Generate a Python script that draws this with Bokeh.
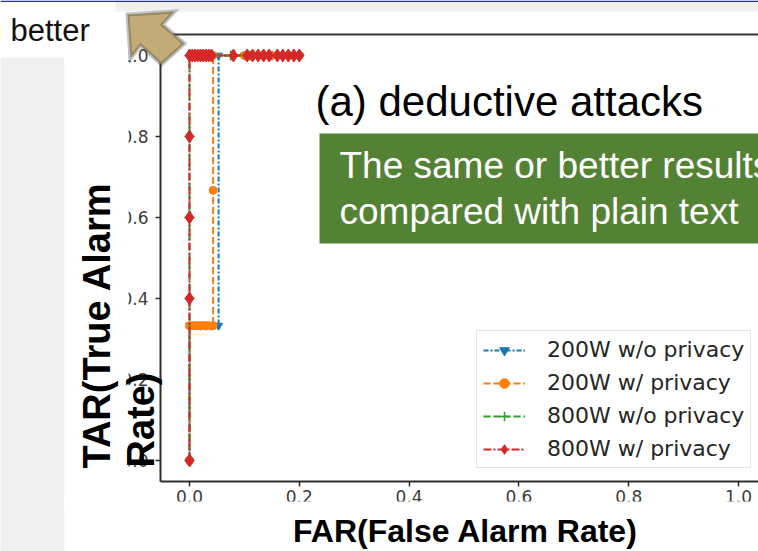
import math
from bokeh.plotting import figure
from bokeh.models import (BoxAnnotation, PolyAnnotation, Label, Legend, LegendItem,
                          FixedTicker, Range1d, PrintfTickFormatter)
from bokeh.embed import file_html
from bokeh.resources import INLINE

# ---------------- data ----------------
tick_values = [0.0, 0.2, 0.4, 0.6, 0.8, 1.0]
tick_labels = ["0.0", "0.2", "0.4", "0.6", "0.8", "1.0"]

series_names = ["200W w/o privacy", "200W w/ privacy", "800W w/o privacy", "800W w/ privacy"]

far_200_wo = [0.0, 0.0, 0.01, 0.02, 0.03, 0.04, 0.053, 0.053, 0.1, 0.15, 0.2]
tar_200_wo = [0.0, 0.333, 0.333, 0.333, 0.333, 0.333, 0.333, 1.0, 1.0, 1.0, 1.0]

far_200_w = [0.0, 0.0, 0.005, 0.01, 0.015, 0.02, 0.025, 0.03, 0.035, 0.043, 0.043, 0.043, 0.1, 0.15, 0.2]
tar_200_w = [0.0, 0.333, 0.333, 0.333, 0.333, 0.333, 0.333, 0.333, 0.333, 0.333, 0.667, 1.0, 1.0, 1.0, 1.0]

far_800_wo = [0.0, 0.0, 0.0, 0.0, 0.0, 0.01, 0.02, 0.03, 0.04, 0.075, 0.11, 0.133, 0.16, 0.2]
tar_800_wo = [0.0, 0.4, 0.6, 0.8, 1.0, 1.0, 1.0, 1.0, 1.0, 1.0, 1.0, 1.0, 1.0, 1.0]

far_800_w = [0.0, 0.0, 0.0, 0.0, 0.0, 0.005, 0.01, 0.015, 0.02, 0.025, 0.03, 0.035, 0.04,
             0.08, 0.105, 0.115, 0.125, 0.135, 0.145, 0.16, 0.17, 0.18, 0.19, 0.2]
tar_800_w = [0.0, 0.4, 0.6, 0.8, 1.0, 1.0, 1.0, 1.0, 1.0, 1.0, 1.0, 1.0, 1.0,
             1.0, 1.0, 1.0, 1.0, 1.0, 1.0, 1.0, 1.0, 1.0, 1.0, 1.0]

title_text = "(a) deductive attacks"
note_lines = ["The same or better results", "compared with plain text"]
x_label = "FAR(False Alarm Rate)"
y_label_lines = ["TAR(True Alarm", "Rate)"]
arrow_text = "better"

# axis limits of the embedded matplotlib plot
x_lo, x_hi = -0.0528, 1.0364
y_lo, y_hi = -0.0519, 1.0519

# ---------------- figure ----------------
W, H = 758, 551
p = figure(width=W, height=H, output_backend="svg", toolbar_location=None,
           x_range=Range1d(-0.34426, 1.03643), y_range=Range1d(-0.22469, 1.13580),
           min_border_left=0, min_border_right=0, min_border_top=0, min_border_bottom=0)
p.xgrid.visible = False
p.ygrid.visible = False
p.outline_line_color = None
p.background_fill_color = "white"
p.border_fill_color = "white"

p.xaxis.fixed_location = y_lo
p.yaxis.fixed_location = x_lo
p.xaxis.bounds = (x_lo, x_hi)
p.yaxis.bounds = (y_lo, y_hi)

for ax in (p.xaxis[0], p.yaxis[0]):
    ax.ticker = FixedTicker(ticks=tick_values)
    ax.formatter = PrintfTickFormatter(format="%.1f")
    ax.major_label_overrides = {v: s for v, s in zip(tick_values, tick_labels)}
    ax.axis_line_width = 2
    ax.axis_line_color = "#2e2e2e"
    ax.major_tick_out = 5
    ax.major_tick_in = 0
    ax.major_tick_line_color = "#2e2e2e"
    ax.major_tick_line_width = 1.5
    ax.minor_tick_out = 0
    ax.minor_tick_in = 0
    ax.major_label_text_font = "DejaVu Sans"
    ax.major_label_text_font_size = "17px"
    ax.major_label_text_color = "#3c3c3c"
p.yaxis.major_label_standoff = 7
p.xaxis.major_label_standoff = 3

colors = ["#1f77b4", "#ff7f0e", "#2ca02c", "#d62728"]
dashes = ["5 2 2 2", "7 3", "7 3", "8 2 2 2"]
markers = ["inverted_triangle", "circle", "cross", "diamond"]
msizes = [8, 8, 10, 13]
xs = [far_200_wo, far_200_w, far_800_wo, far_800_w]
ys = [tar_200_wo, tar_200_w, tar_800_wo, tar_800_w]

items = []
for name, c, d, m, s, x, y in zip(series_names, colors, dashes, markers, msizes, xs, ys):
    r1 = p.line(x, y, line_color=c, line_width=2, line_dash=d)
    r2 = p.scatter(x, y, marker=m, size=s, fill_color=c, line_color=c, line_width=1.5 if m == "cross" else 1)
    items.append(LegendItem(label=name, renderers=[r1, r2]))

# ---------------- slide decorations (screen units, frame = whole canvas) ----------------
def sx(px):
    return px

def sy(py):
    return H - py

TXT_SHIFT = 10  # correction for the alphabetic baseline position of labels

def box(x0, y0, x1, y1, color):
    p.add_layout(BoxAnnotation(left=sx(x0), right=sx(x1), top=sy(y0), bottom=sy(y1),
                               left_units="screen", right_units="screen",
                               top_units="screen", bottom_units="screen",
                               fill_color=color, fill_alpha=1.0, line_color=None))

def text(px, py, s, size, color="black", style="normal", align="left"):
    p.add_layout(Label(x=sx(px), y=sy(py) + TXT_SHIFT, x_units="screen", y_units="screen", text=s,
                       text_font="Liberation Sans", text_font_style=style, text_font_size=size,
                       text_color=color, text_baseline="alphabetic", text_align=align))

box(0, 0, 760, 1.5, "#2222ee")          # thin blue line at very top
box(115, 1.5, 760, 11, "#f0f0f0")       # top grey strip
box(0, 57, 64, 560, "#f0f0f0")          # left grey panel
box(64, 45, 128, 505, "white")          # crop of the plot image (left)
box(64, 501, 760, 560, "white")         # crop of the plot image (bottom)
box(158, 33, 760, 35, "#3a3a3a")        # top spine

# arrow
arrow_px = [127, 174, 162, 184, 161, 140, 130]
arrow_py = [14, 11, 24, 43, 64, 45, 58]
p.add_layout(PolyAnnotation(xs=[sx(v) for v in arrow_px], ys=[sy(v) for v in arrow_py],
                            xs_units="screen", ys_units="screen",
                            fill_color="#c2ab76", fill_alpha=1.0,
                            line_color="#333d3d", line_width=4, line_join="miter"))

text(10, 40, arrow_text, "31px", color="#111111")

# y label (two rotated lines)
p.add_layout(Label(x=sx(96), y=sy(468), x_units="screen", y_units="screen", text=y_label_lines[0],
                   angle=math.pi / 2, text_font="Liberation Sans", text_font_style="bold",
                   text_font_size="38px", text_color="black", text_baseline="middle", text_align="left"))
p.add_layout(Label(x=sx(140), y=sy(467), x_units="screen", y_units="screen", text=y_label_lines[1],
                   angle=math.pi / 2, text_font="Liberation Sans", text_font_style="bold",
                   text_font_size="38px", text_color="black", text_baseline="middle", text_align="left"))

# x label
text(465, 540, x_label, "32px", style="bold", align="center")

# title
text(315, 111, title_text, "42px")

# green note box
box(319, 133, 760, 243, "#548235")
text(339, 175, note_lines[0], "37px", color="white")
text(339, 221, note_lines[1], "37px", color="white")

# legend
legend = Legend(items=items, location=(sx(476), sy(468)),
                label_text_font="DejaVu Sans", label_text_font_size="22px", label_text_color="#262626",
                glyph_width=42, glyph_height=24, label_height=24, spacing=8, padding=6,
                label_standoff=22, margin=0,
                border_line_color="#cccccc", border_line_width=1.5,
                background_fill_color="white", background_fill_alpha=0.8)
p.add_layout(legend)

open("out.html", "w").write(file_html(p, INLINE))
